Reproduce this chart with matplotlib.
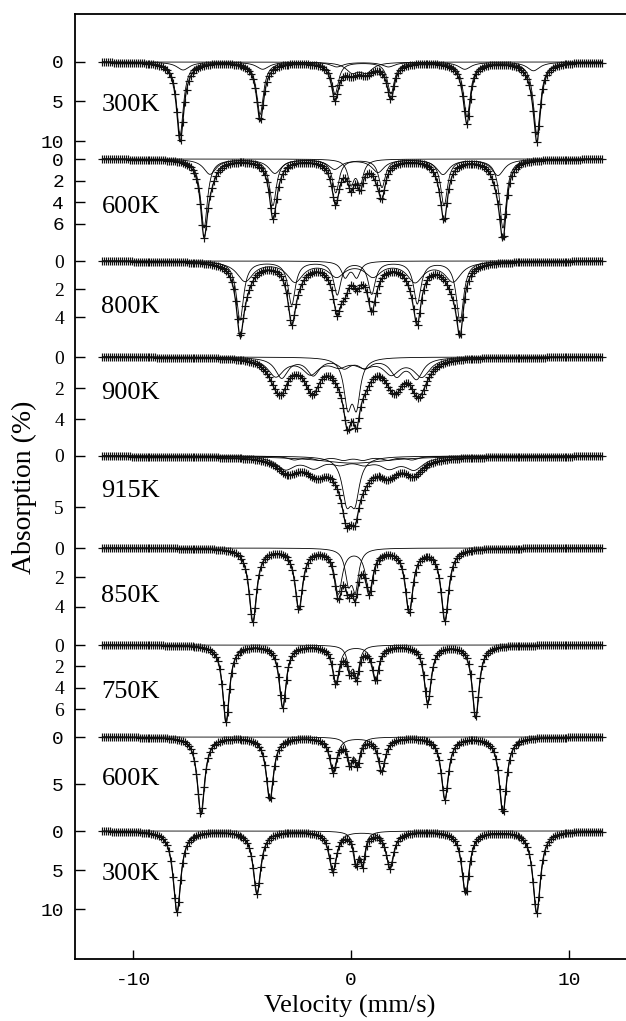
import numpy as np
import matplotlib
matplotlib.use('Agg')
import matplotlib.pyplot as plt

# ---------------- data ----------------
# velocity channels (mm/s)
V_START, V_END, N_CHANNELS = -11.4, 11.5, 256

labels = ['300K', '600K', '800K', '900K', '915K', '850K', '750K', '600K', '300K']

# each component: (line positions mm/s, line depths %, FWHM mm/s)
comp_300K_a = [
    ([-7.84, -4.17, -0.73, 1.83, 5.32, 8.53], [9.2, 6.6, 4.0, 4.0, 6.9, 9.2], 0.38),
    ([-7.70, -4.05, -0.65, 1.72, 5.22, 8.37], [1.0, 0.9, 0.6, 0.6, 0.9, 1.1], 0.70),
    ([0.05, 0.70], [1.2, 1.2], 0.70),
]
comp_600K_a = [
    ([-6.74, -3.58, -0.70, 1.42, 4.27, 6.97], [6.4, 4.3, 3.1, 2.6, 4.3, 6.4], 0.38),
    ([-6.47, -3.49, -0.75, 1.24, 4.22, 6.74], [1.4, 1.3, 0.9, 1.2, 1.4, 1.5], 0.70),
    ([0.00, 0.42], [2.2, 2.2], 0.35),
]
comp_800K = [
    ([-5.09, -2.72, -0.63, 0.95, 3.04, 5.00], [4.2, 3.1, 2.35, 2.3, 3.0, 4.35], 0.40),
    ([-4.86, -2.57, -0.66, 1.01, 2.94, 4.68], [1.4, 1.4, 1.0, 1.0, 1.4, 1.4], 0.90),
    ([-0.27, 0.26], [1.1, 1.1], 0.40),
]
comp_900K = [
    ([-3.18, -1.73, -0.31, 0.64, 2.09, 3.01], [1.3, 1.1, 0.6, 0.6, 1.1, 1.3], 0.70),
    ([-3.45, -1.85, -0.55, 0.60, 1.85, 3.25], [1.2, 1.0, 0.5, 0.5, 1.0, 1.2], 0.90),
    ([-0.15, 0.25], [2.9, 2.9], 0.42),
]
comp_915K = [
    ([-0.20, 0.18], [3.9, 3.9], 0.50),
    ([-3.00, -1.70, -0.50, 0.60, 1.75, 2.90], [1.2, 1.0, 0.6, 0.6, 1.0, 1.2], 1.00),
    ([0.10], [0.7], 4.00),
    ([-2.60, -1.45, -0.35, 0.55, 1.70, 2.80], [0.35, 0.35, 0.35, 0.35, 0.35, 0.35], 0.70),
]
comp_850K = [
    ([-4.50, -2.39, -0.58, 0.84, 2.67, 4.31], [5.0, 4.1, 3.0, 2.8, 4.3, 4.9], 0.42),
    ([-0.12, 0.20], [2.1, 2.6], 0.35),
]
comp_750K = [
    ([-5.73, -3.13, -0.69, 1.13, 3.52, 5.72], [7.2, 5.8, 3.45, 3.2, 5.4, 6.8], 0.38),
    ([-0.05, 0.26], [2.0, 2.7], 0.30),
]
comp_600K_b = [
    ([-6.88, -3.72, -0.81, 1.41, 4.31, 6.97], [8.2, 6.7, 3.6, 3.6, 6.6, 8.1], 0.40),
    ([-0.05, 0.30], [2.5, 2.6], 0.30),
]
comp_300K_b = [
    ([-7.98, -4.31, -0.83, 1.79, 5.26, 8.52], [10.4, 8.0, 5.1, 4.7, 8.0, 10.5], 0.42),
    ([0.23, 0.54], [3.8, 3.8], 0.27),
]
spectra = [comp_300K_a, comp_600K_a, comp_800K, comp_900K, comp_915K,
           comp_850K, comp_750K, comp_600K_b, comp_300K_b]

yticks = [[0, 5, 10], [0, 2, 4, 6], [0, 2, 4], [0, 2, 4], [0, 5],
          [0, 2, 4], [0, 2, 4, 6], [0, 5], [0, 5, 10]]

# ---------------- layout (reference pixels) ----------------
W, H = 626, 1021
AX_L, AX_R, AX_T, AX_B = 75, 626, 14, 959
X0_PX, PX_PER_V = 351, 21.8
zero_px = [62, 159, 261, 357, 456, 548, 645, 737, 831]
px_per_pct = [7.9, 10.75, 14.0, 15.5, 10.2, 14.7, 10.7, 9.4, 7.8]
label_base_px = [111, 213, 313, 399, 497, 602, 698, 785, 880]
tick_mono = [True, True, False, False, False, False, False, True, True]


def component_curve(v, comp):
    pos, dep, fwhm = comp
    hw = fwhm / 2.0
    out = np.zeros_like(v)
    for p, d in zip(pos, dep):
        out += d / (1.0 + ((v - p) / hw) ** 2)
    return out


fig = plt.figure(figsize=(W / 100, H / 100), dpi=100)
rect = [AX_L / W, 1 - AX_B / H, (AX_R - AX_L) / W, (AX_B - AX_T) / H]
xlim = ((AX_L - X0_PX) / PX_PER_V, (AX_R - X0_PX) / PX_PER_V)

main = fig.add_axes(rect)
main.set_xlim(xlim)
main.set_ylim(0, 1)
main.set_yticks([])
main.spines['right'].set_visible(False)
for s in ['left', 'top', 'bottom']:
    main.spines[s].set_linewidth(1.3)
main.set_xticks([-10, 0, 10])
main.set_xticklabels(['-10', '0', '10'], fontfamily='Liberation Mono', fontsize=14)
main.tick_params(axis='x', direction='in', length=6.5, width=1.0, pad=9, top=False)

v_chan = np.linspace(V_START, V_END, N_CHANNELS)
v_fine = np.linspace(V_START, V_END, 1500)

for i, comps in enumerate(spectra):
    ax = fig.add_axes(rect)
    ax.patch.set_visible(False)
    for s in ax.spines.values():
        s.set_visible(False)
    ax.set_xlim(xlim)
    ax.xaxis.set_visible(False)
    z, s = zero_px[i], px_per_pct[i]
    ax.set_ylim((AX_B - z) / s, (AX_T - z) / s)

    total_fine = np.zeros_like(v_fine)
    for c in comps:
        cc = component_curve(v_fine, c)
        total_fine += cc
        ax.plot(v_fine, cc, color='black', lw=0.6)
    ax.plot(v_fine, total_fine, color='black', lw=0.9)
    total_chan = sum(component_curve(v_chan, c) for c in comps)
    ax.plot(v_chan, total_chan, linestyle='none', marker='+', ms=6,
            mew=0.85, color='#111111')

    ax.set_yticks(yticks[i])
    if tick_mono[i]:
        ax.set_yticklabels([str(t) for t in yticks[i]],
                           fontfamily='Liberation Mono', fontsize=14)
    else:
        ax.set_yticklabels([str(t) for t in yticks[i]],
                           fontfamily='Liberation Serif', fontsize=14)
    ax.tick_params(axis='y', direction='in', length=7.2, width=1.0, pad=8,
                   right=False)

    ax.text(-11.45, (label_base_px[i] - z) / s, labels[i], ha='left',
            va='baseline', fontfamily='Liberation Serif', fontsize=19)

fig.text(24 / W, 1 - 487 / H, 'Absorption (%)', rotation=90, ha='center',
         va='center', fontfamily='Liberation Serif', fontsize=20)
fig.text(350 / W, 1 - 1006 / H, 'Velocity (mm/s)', ha='center', va='center',
         fontfamily='Liberation Serif', fontsize=19)

fig.savefig('out.png', dpi=100)
